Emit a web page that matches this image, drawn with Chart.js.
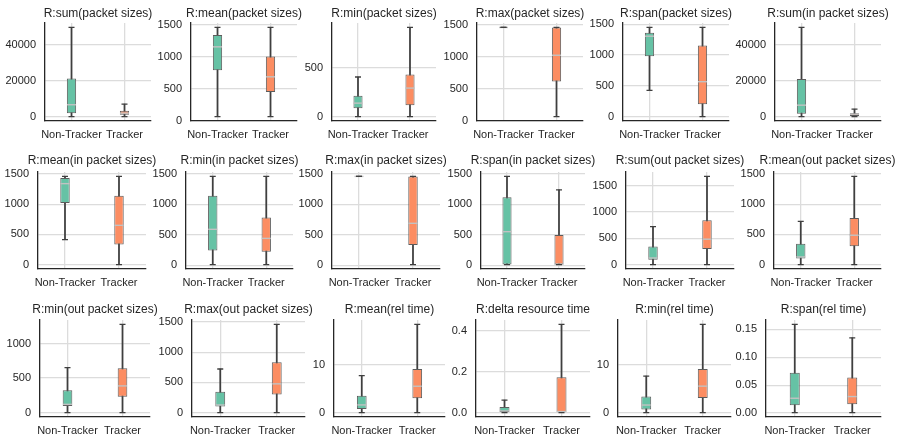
<!DOCTYPE html>
<html>
<head>
<meta charset="utf-8">
<script src="https://cdn.jsdelivr.net/npm/chart.js@4.4.1/dist/chart.umd.min.js"></script>
<style>
  body { margin: 0; background: #fff; }
  #wrap { position: relative; width: 904px; height: 440px; overflow: hidden; }
  #wrap canvas { position: absolute; }
</style>
</head>
<body>
<div id="wrap"></div>
<script>
const categories = ['Non-Tracker', 'Tracker'];

const titles = [
  'R:sum(packet sizes)', 'R:mean(packet sizes)', 'R:min(packet sizes)',
  'R:max(packet sizes)', 'R:span(packet sizes)', 'R:sum(in packet sizes)',
  'R:mean(in packet sizes)', 'R:min(in packet sizes)', 'R:max(in packet sizes)',
  'R:span(in packet sizes)', 'R:sum(out packet sizes)', 'R:mean(out packet sizes)',
  'R:min(out packet sizes)', 'R:max(out packet sizes)', 'R:mean(rel time)',
  'R:delta resource time', 'R:min(rel time)', 'R:span(rel time)'
];

// each row: [whisker low, q1, median, q3, whisker high]
const nonTrackerBoxes = [
  [0, 1900, 6600, 21200, 49800],
  [63, 787, 1156, 1341, 1460],
  [0, 86, 138, 214, 407],
  [1460, 1460, 1460, 1460, 1460],
  [425, 981, 1308, 1363, 1450],
  [0, 1500, 6350, 20900, 49700],
  [413, 1020, 1340, 1433, 1460],
  [10, 243, 590, 1141, 1460],
  [1460, 1460, 1460, 1460, 1460],
  [10, 10, 551, 1119, 1460],
  [0, 94, 126, 346, 723],
  [0, 99, 127, 347, 716],
  [0, 95, 119, 324, 652],
  [0, 99, 126, 345, 722],
  [0.1, 0.83, 1.7, 3.6, 7.8],
  [0, 0.003, 0.008, 0.027, 0.061],
  [0.07, 0.7, 1.65, 3.45, 7.7],
  [0.001, 0.0142, 0.0267, 0.0724, 0.159]
];

const trackerBoxes = [
  [0, 940, 1900, 3200, 6950],
  [63, 449, 686, 1003, 1460],
  [0, 117, 293, 434, 917],
  [63, 612, 1024, 1460, 1460],
  [0, 202, 567, 1156, 1450],
  [0, 370, 1300, 1870, 4100],
  [0, 331, 650, 1141, 1460],
  [10, 220, 441, 783, 1460],
  [10, 331, 689, 1460, 1460],
  [10, 10, 15, 496, 1240],
  [0, 296, 484, 843, 1680],
  [0, 303, 486, 772, 1460],
  [0, 229, 386, 643, 1276],
  [0, 301, 476, 832, 1460],
  [0.1, 3.1, 5.6, 9.2, 18.5],
  [0, 0.003, 0.005, 0.173, 0.432],
  [0.07, 3.1, 5.6, 9.17, 18.5],
  [0.001, 0.016, 0.0297, 0.064, 0.135]
];

const yTicks = [
  [0, 20000, 40000], [0, 500, 1000, 1500], [0, 500],
  [0, 500, 1000, 1500], [0, 500, 1000, 1500], [0, 20000, 40000],
  [0, 500, 1000, 1500], [0, 500, 1000, 1500], [0, 500, 1000, 1500],
  [0, 500, 1000, 1500], [0, 500, 1000, 1500], [0, 500, 1000, 1500],
  [0, 500, 1000], [0, 500, 1000, 1500], [0, 10],
  [0, 0.2, 0.4], [0, 10], [0, 0.05, 0.1, 0.15]
];
const tickDecimals = [0, 0, 0, 0, 0, 0, 0, 0, 0, 0, 0, 0, 0, 0, 0, 1, 0, 2];

// layout: plot area left/right per panel, and top/bottom/title gap per row
const plotCols = [
  [[45, 151], [191, 297], [332, 436], [477, 583], [623, 729], [775, 881]],
  [[38, 146], [186, 293], [332, 440], [481, 585], [626, 734], [774, 881]],
  [[40, 150], [192, 305], [334, 445], [476, 590], [618, 731], [766, 881]]
];
const plotRows = [[23, 121, 2], [172, 269, 4], [320, 417, 3]];

const FONT = "'Liberation Sans', Arial, sans-serif";
const TEXT = '#262626';
const GRID = '#dcdcdc';
const SPINE = '#262626';
const BOX_COLORS = ['#66c2a5', '#fc8d62'];
const BOX_EDGE = '#5c5c5c';
const WHISKER = '#3f3f3f';
const MEDIAN = '#c2c2c2';
const YW = 50, XH = 24, TITLE_H = 15;

const wrap = document.getElementById('wrap');

function makePanel(i) {
  const r = Math.floor(i / 6), c = i % 6;
  const [left, right] = plotCols[r][c];
  const [top, bottom, gap] = plotRows[r];
  const nt = nonTrackerBoxes[i], tr = trackerBoxes[i];

  const canvas = document.createElement('canvas');
  const w = YW * 2 + (right - left);
  const h = TITLE_H + gap + (bottom - top) + XH;
  canvas.width = w;
  canvas.height = h;
  canvas.style.width = w + 'px';
  canvas.style.height = h + 'px';
  canvas.style.left = (left - YW) + 'px';
  canvas.style.top = (top - TITLE_H - gap) + 'px';
  wrap.appendChild(canvas);

  // matplotlib-like 5% margins around the whiskers
  const lo = Math.min(nt[0], tr[0]);
  const hi = Math.max(nt[4], tr[4]);
  const pad = (hi - lo) * 0.05;
  const ticks = yTicks[i];
  const dec = tickDecimals[i];

  const pointSet = (vals, radius, color, width, order) => ({
    type: 'line',
    data: vals,
    showLine: false,
    pointStyle: 'line',
    pointRadius: radius,
    pointHoverRadius: radius,
    pointBorderColor: color,
    pointBorderWidth: width,
    order: order
  });

  new Chart(canvas, {
    type: 'bar',
    data: {
      labels: categories,
      datasets: [
        {
          data: [[nt[0], nt[4]], [tr[0], tr[4]]],
          backgroundColor: WHISKER,
          barThickness: 1.1,
          grouped: false,
          order: 5
        },
        {
          data: [[nt[1], nt[3]], [tr[1], tr[3]]],
          backgroundColor: BOX_COLORS,
          borderColor: BOX_EDGE,
          borderWidth: 1,
          borderSkipped: false,
          barPercentage: 0.175,
          categoryPercentage: 1,
          grouped: false,
          order: 4
        },
        pointSet([nt[2], tr[2]], 4.5, MEDIAN, 1.4, 3),
        pointSet([nt[0], tr[0]], 3, WHISKER, 1.3, 2),
        pointSet([nt[4], tr[4]], 3, WHISKER, 1.3, 1)
      ]
    },
    options: {
      responsive: false,
      animation: false,
      devicePixelRatio: 1,
      events: [],
      layout: { padding: 0 },
      plugins: {
        legend: { display: false },
        tooltip: { enabled: false },
        title: {
          display: true,
          text: titles[i],
          color: TEXT,
          font: { family: FONT, size: 12, weight: 'normal', lineHeight: 1.25 },
          padding: { top: 0, bottom: gap }
        }
      },
      scales: {
        x: {
          type: 'category',
          offset: true,
          grid: { offset: false, color: GRID, lineWidth: 1.3, drawTicks: false },
          border: { display: true, color: SPINE, width: 1.3 },
          ticks: {
            color: TEXT, font: { family: FONT, size: 11 }, padding: 7,
            autoSkip: false, maxRotation: 0, minRotation: 0
          },
          afterFit: s => { s.height = XH; }
        },
        y: {
          type: 'linear',
          min: lo - pad,
          max: hi + pad,
          grid: { color: GRID, lineWidth: 1.3, drawTicks: false },
          border: { display: true, color: SPINE, width: 1.3 },
          ticks: {
            color: TEXT, font: { family: FONT, size: 11 }, padding: 9,
            callback: v => v.toFixed(dec)
          },
          afterBuildTicks: s => { s.ticks = ticks.map(v => ({ value: v })); },
          afterFit: s => { s.width = YW; }
        },
        // empty right axis so the title centres over the plot
        yPad: {
          type: 'linear',
          position: 'right',
          grid: { display: false },
          border: { display: false },
          ticks: { display: false },
          afterFit: s => { s.width = YW; }
        }
      }
    }
  });
}

titles.forEach((t, i) => makePanel(i));
</script>
</body>
</html>
